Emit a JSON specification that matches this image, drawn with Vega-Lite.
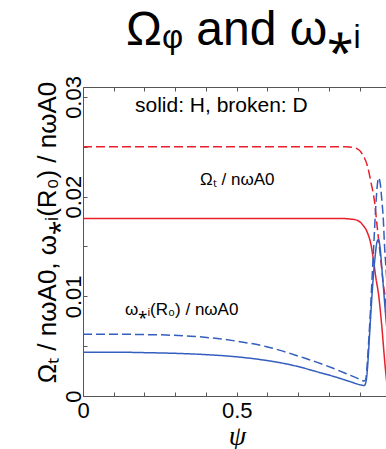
{
  "$schema": "https://vega.github.io/schema/vega-lite/v6.json",
  "width": 303,
  "height": 309,
  "autosize": {"type": "none"},
  "padding": {"left": 83, "top": 87, "right": 0, "bottom": 53},
  "background": "white",
  "title": {
    "text": "Ωᵩ and ω⁎ᵢ",
    "frame": "group",
    "anchor": "start",
    "dx": 43,
    "offset": -17,
    "baseline": "alphabetic",
    "font": "Liberation Sans",
    "fontSize": 48,
    "fontWeight": "normal",
    "color": "black"
  },
  "config": {
    "view": {"stroke": null},
    "axis": {"grid": false}
  },
  "resolve": {"axis": {"x": "independent"}},
  "layer": [
    {
      "data": {
        "values": [
          {"psi": 0, "v": 0.0178, "q": "Omega", "m": "H"},
          {"psi": 0.2, "v": 0.0178, "q": "Omega", "m": "H"},
          {"psi": 0.4, "v": 0.0178, "q": "Omega", "m": "H"},
          {"psi": 0.6, "v": 0.0178, "q": "Omega", "m": "H"},
          {"psi": 0.8, "v": 0.0178, "q": "Omega", "m": "H"},
          {"psi": 0.85, "v": 0.0178, "q": "Omega", "m": "H"},
          {"psi": 0.87, "v": 0.01775, "q": "Omega", "m": "H"},
          {"psi": 0.888, "v": 0.01767, "q": "Omega", "m": "H"},
          {"psi": 0.91, "v": 0.01717, "q": "Omega", "m": "H"},
          {"psi": 0.926, "v": 0.01633, "q": "Omega", "m": "H"},
          {"psi": 0.937, "v": 0.01516, "q": "Omega", "m": "H"},
          {"psi": 0.946, "v": 0.0134, "q": "Omega", "m": "H"},
          {"psi": 0.953, "v": 0.0118, "q": "Omega", "m": "H"},
          {"psi": 0.961, "v": 0.0103, "q": "Omega", "m": "H"},
          {"psi": 0.972, "v": 0.007, "q": "Omega", "m": "H"},
          {"psi": 0.982, "v": 0.0033, "q": "Omega", "m": "H"},
          {"psi": 0.99, "v": 0.0008, "q": "Omega", "m": "H"},
          {"psi": 0, "v": 0.025, "q": "Omega", "m": "D"},
          {"psi": 0.2, "v": 0.025, "q": "Omega", "m": "D"},
          {"psi": 0.4, "v": 0.025, "q": "Omega", "m": "D"},
          {"psi": 0.6, "v": 0.025, "q": "Omega", "m": "D"},
          {"psi": 0.8, "v": 0.025, "q": "Omega", "m": "D"},
          {"psi": 0.85, "v": 0.025, "q": "Omega", "m": "D"},
          {"psi": 0.87, "v": 0.02497, "q": "Omega", "m": "D"},
          {"psi": 0.888, "v": 0.02487, "q": "Omega", "m": "D"},
          {"psi": 0.91, "v": 0.0242, "q": "Omega", "m": "D"},
          {"psi": 0.926, "v": 0.023, "q": "Omega", "m": "D"},
          {"psi": 0.937, "v": 0.0214, "q": "Omega", "m": "D"},
          {"psi": 0.948, "v": 0.0196, "q": "Omega", "m": "D"},
          {"psi": 0.957, "v": 0.017, "q": "Omega", "m": "D"},
          {"psi": 0.968, "v": 0.0139, "q": "Omega", "m": "D"},
          {"psi": 0.977, "v": 0.0112, "q": "Omega", "m": "D"},
          {"psi": 0.986, "v": 0.009, "q": "Omega", "m": "D"},
          {"psi": 0.995, "v": 0.003, "q": "Omega", "m": "D"},
          {"psi": 0, "v": 0.0044, "q": "omega", "m": "H"},
          {"psi": 0.1, "v": 0.0044, "q": "omega", "m": "H"},
          {"psi": 0.2, "v": 0.00435, "q": "omega", "m": "H"},
          {"psi": 0.3, "v": 0.00428, "q": "omega", "m": "H"},
          {"psi": 0.4, "v": 0.00415, "q": "omega", "m": "H"},
          {"psi": 0.5, "v": 0.00393, "q": "omega", "m": "H"},
          {"psi": 0.6, "v": 0.00355, "q": "omega", "m": "H"},
          {"psi": 0.652, "v": 0.00328, "q": "omega", "m": "H"},
          {"psi": 0.7, "v": 0.00295, "q": "omega", "m": "H"},
          {"psi": 0.76, "v": 0.00244, "q": "omega", "m": "H"},
          {"psi": 0.82, "v": 0.00192, "q": "omega", "m": "H"},
          {"psi": 0.869, "v": 0.00144, "q": "omega", "m": "H"},
          {"psi": 0.905, "v": 0.0011, "q": "omega", "m": "H"},
          {"psi": 0.915, "v": 0.00105, "q": "omega", "m": "H"},
          {"psi": 0.921, "v": 0.0015, "q": "omega", "m": "H"},
          {"psi": 0.926, "v": 0.003, "q": "omega", "m": "H"},
          {"psi": 0.931, "v": 0.0055, "q": "omega", "m": "H"},
          {"psi": 0.937, "v": 0.0086, "q": "omega", "m": "H"},
          {"psi": 0.944, "v": 0.0118, "q": "omega", "m": "H"},
          {"psi": 0.951, "v": 0.0142, "q": "omega", "m": "H"},
          {"psi": 0.956, "v": 0.0154, "q": "omega", "m": "H"},
          {"psi": 0.961, "v": 0.0157, "q": "omega", "m": "H"},
          {"psi": 0.966, "v": 0.015, "q": "omega", "m": "H"},
          {"psi": 0.971, "v": 0.0133, "q": "omega", "m": "H"},
          {"psi": 0.977, "v": 0.011, "q": "omega", "m": "H"},
          {"psi": 0.986, "v": 0.0076, "q": "omega", "m": "H"},
          {"psi": 0.995, "v": 0.005, "q": "omega", "m": "H"},
          {"psi": 0, "v": 0.0062, "q": "omega", "m": "D"},
          {"psi": 0.1, "v": 0.0062, "q": "omega", "m": "D"},
          {"psi": 0.2, "v": 0.00616, "q": "omega", "m": "D"},
          {"psi": 0.27, "v": 0.00612, "q": "omega", "m": "D"},
          {"psi": 0.35, "v": 0.006, "q": "omega", "m": "D"},
          {"psi": 0.43, "v": 0.00579, "q": "omega", "m": "D"},
          {"psi": 0.5, "v": 0.0055, "q": "omega", "m": "D"},
          {"psi": 0.597, "v": 0.00495, "q": "omega", "m": "D"},
          {"psi": 0.65, "v": 0.0045, "q": "omega", "m": "D"},
          {"psi": 0.706, "v": 0.00395, "q": "omega", "m": "D"},
          {"psi": 0.76, "v": 0.0034, "q": "omega", "m": "D"},
          {"psi": 0.814, "v": 0.00278, "q": "omega", "m": "D"},
          {"psi": 0.86, "v": 0.0022, "q": "omega", "m": "D"},
          {"psi": 0.9, "v": 0.00168, "q": "omega", "m": "D"},
          {"psi": 0.915, "v": 0.0015, "q": "omega", "m": "D"},
          {"psi": 0.92, "v": 0.0017, "q": "omega", "m": "D"},
          {"psi": 0.925, "v": 0.0034, "q": "omega", "m": "D"},
          {"psi": 0.93, "v": 0.0058, "q": "omega", "m": "D"},
          {"psi": 0.935, "v": 0.0085, "q": "omega", "m": "D"},
          {"psi": 0.941, "v": 0.0122, "q": "omega", "m": "D"},
          {"psi": 0.947, "v": 0.0158, "q": "omega", "m": "D"},
          {"psi": 0.952, "v": 0.0188, "q": "omega", "m": "D"},
          {"psi": 0.957, "v": 0.021, "q": "omega", "m": "D"},
          {"psi": 0.962, "v": 0.0219, "q": "omega", "m": "D"},
          {"psi": 0.967, "v": 0.0213, "q": "omega", "m": "D"},
          {"psi": 0.972, "v": 0.0197, "q": "omega", "m": "D"},
          {"psi": 0.977, "v": 0.0177, "q": "omega", "m": "D"},
          {"psi": 0.981, "v": 0.015, "q": "omega", "m": "D"},
          {"psi": 0.986, "v": 0.0127, "q": "omega", "m": "D"},
          {"psi": 0.995, "v": 0.008, "q": "omega", "m": "D"}
        ]
      },
      "mark": {"type": "line", "clip": true, "strokeWidth": 1.5, "interpolate": "monotone"},
      "encoding": {
        "x": {
          "field": "psi", "type": "quantitative",
          "scale": {"domain": [0, 0.9857], "nice": false, "zero": false},
          "axis": {
            "orient": "bottom",
            "values": [0, 0.1, 0.2, 0.3, 0.4, 0.5, 0.6, 0.7, 0.8, 0.9],
            "labelExpr": "datum.value == 0 ? '0' : (abs(datum.value - 0.5) < 0.001 ? '0.5' : '')",
            "tickSize": -4,
            "tickColor": "#555",
            "domainColor": "#555",
            "labelFont": "Liberation Sans",
            "labelFontSize": 22,
            "labelColor": "black",
            "labelPadding": 8,
            "labelFlush": false,
            "labelOverlap": false,
            "title": "ψ",
            "titleFont": "Liberation Serif",
            "titleFontStyle": "italic",
            "titleFontWeight": "normal",
            "titleFontSize": 28,
            "titleColor": "black",
            "titleX": 154,
            "titleY": 48,
            "titleAlign": "center",
            "titleBaseline": "alphabetic"
          }
        },
        "y": {
          "field": "v", "type": "quantitative",
          "scale": {"domain": [0, 0.031], "nice": false},
          "axis": {
            "values": [0, 0.005, 0.01, 0.015, 0.02, 0.025, 0.03],
            "labelExpr": "round(datum.value * 1000) % 10 == 0 ? (datum.value == 0 ? '0' : format(datum.value, '.2f')) : ''",
            "labelAngle": -90,
            "labelAlign": "center",
            "labelBaseline": "bottom",
            "tickSize": -4,
            "tickColor": "#555",
            "domainColor": "#555",
            "labelFont": "Liberation Sans",
            "labelFontSize": 22,
            "labelColor": "black",
            "labelPadding": 2,
            "labelFlush": false,
            "labelOverlap": false,
            "title": "Ωₜ / nωA0, ω⁎ᵢ(R₀) / nωA0",
            "titleFont": "Liberation Sans",
            "titleFontWeight": "normal",
            "titleFontSize": 26,
            "titleColor": "black",
            "titleAngle": -90,
            "titleX": -28,
            "titleY": 145,
            "titleAlign": "center",
            "titleBaseline": "alphabetic"
          }
        },
        "color": {
          "field": "q", "type": "nominal",
          "scale": {"domain": ["Omega", "omega"], "range": ["#e8202a", "#345ebe"]},
          "legend": null
        },
        "strokeDash": {
          "field": "m", "type": "nominal",
          "scale": {"domain": ["H", "D"], "range": [[1, 0], [9, 4]]},
          "legend": null
        },
        "detail": {"field": "m"}
      }
    },
    {
      "data": {
        "values": [
          {"label": "solid: H, broken: D", "psi": 0.169, "v": 0.0285},
          {"label": "Ωₜ / nωA0", "psi": 0.381, "v": 0.0212},
          {"label": "ω⁎ᵢ(R₀) / nωA0", "psi": 0.137, "v": 0.00813}
        ]
      },
      "mark": {"type": "text", "align": "left", "baseline": "alphabetic", "font": "Liberation Sans", "color": "black"},
      "encoding": {
        "text": {"field": "label", "type": "nominal"},
        "size": {"condition": {"test": "datum.label == 'solid: H, broken: D'", "value": 21}, "value": 17},
        "x": {
          "field": "psi", "type": "quantitative",
          "axis": {
            "orient": "top",
            "values": [0, 0.1, 0.2, 0.3, 0.4, 0.5, 0.6, 0.7, 0.8, 0.9],
            "labels": false,
            "tickSize": -4,
            "tickColor": "#555",
            "domainColor": "#555",
            "title": null
          }
        },
        "y": {"field": "v", "type": "quantitative"}
      }
    }
  ]
}
